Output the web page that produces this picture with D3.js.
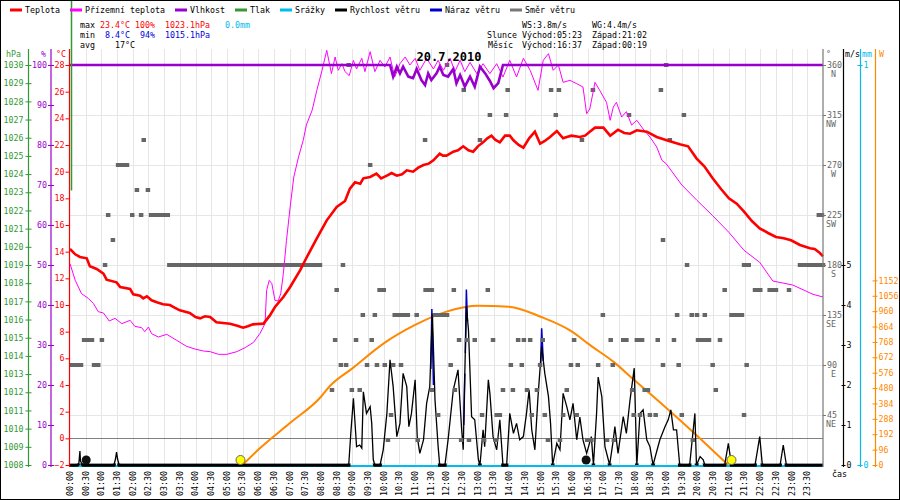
<!DOCTYPE html>
<html>
<head>
<meta charset="utf-8">
<script src="https://cdn.jsdelivr.net/npm/d3@7"></script>
<style>
  body { margin: 0; background: #fff; }
  svg text { font-family: "DejaVu Sans Mono", monospace; font-size: 8.3px; }
</style>
</head>
<body>
<svg id="chart" width="900" height="500"></svg>
<script>
// ---- data (minutes since midnight, value) ----
const tempData = [[0,14.2],[10,13.8],[19,13.6],[32,13.5],[38,12.9],[51,12.7],[64,12.35],[70,11.9],[89,11.7],[96,11.35],[115,11.2],[121,10.8],[134,10.7],[140,10.5],[147,10.65],[156,10.35],[166,10.2],[178,10.05],[191,10.0],[200,9.8],[210,9.6],[229,9.4],[240,9.1],[249,9.0],[258,9.15],[268,9.1],[280,8.7],[306,8.6],[320,8.45],[331,8.3],[340,8.4],[350,8.55],[370,8.6],[382,9.2],[392,9.85],[408,10.6],[421,11.35],[440,12.6],[453,13.6],[472,15.0],[491,16.35],[510,17.35],[526,17.8],[535,18.7],[545,19.2],[555,19.1],[561,19.5],[574,19.6],[586,19.85],[595,19.5],[606,19.7],[615,19.9],[625,19.7],[635,19.8],[644,20.1],[656,20.0],[666,20.3],[676,20.5],[686,20.6],[695,20.85],[707,21.35],[713,21.2],[720,21.2],[733,21.5],[742,21.6],[752,21.9],[762,21.6],[771,21.5],[780,21.9],[790,22.2],[798,22.5],[806,22.7],[813,22.4],[822,22.2],[832,22.7],[841,22.7],[848,22.35],[858,22.0],[867,21.8],[878,22.5],[889,23.0],[899,22.1],[908,22.3],[918,22.6],[931,23.05],[943,22.5],[950,22.6],[959,22.7],[975,22.6],[985,22.7],[994,23.0],[1004,23.3],[1020,23.3],[1033,22.7],[1048,23.15],[1060,22.9],[1071,22.85],[1084,23.1],[1103,23.0],[1122,22.6],[1141,22.35],[1166,22.05],[1182,21.9],[1198,21.0],[1213,20.4],[1229,19.5],[1245,18.7],[1260,18.0],[1275,17.6],[1289,17.0],[1304,16.3],[1319,15.75],[1335,15.4],[1350,15.1],[1365,15.0],[1379,14.85],[1396,14.5],[1415,14.25],[1424,14.2],[1434,13.9],[1440,13.65]];

const groundData = [[0,13.1],[10,11.85],[22,10.85],[35,10.5],[45,10.1],[54,9.5],[64,9.4],[75,8.8],[86,9.0],[99,8.6],[115,8.85],[124,8.4],[137,8.3],[143,8.0],[150,8.35],[156,7.85],[169,7.6],[185,7.8],[204,7.35],[223,6.9],[239,6.7],[255,6.55],[268,6.5],[284,6.3],[300,6.3],[319,6.5],[335,6.8],[351,7.2],[363,7.85],[373,8.6],[376,11.1],[381,11.85],[386,11.6],[392,10.35],[398,10.3],[403,10.85],[408,12.35],[414,14.85],[421,17.35],[428,19.6],[437,21.1],[446,22.35],[452,23.5],[463,24.6],[472,26.1],[482,27.6],[491,29.1],[500,27.35],[507,28.6],[513,27.6],[520,28.1],[526,27.5],[534,27.2],[542,28.35],[548,27.7],[558,28.5],[564,27.5],[574,29.0],[583,27.5],[593,28.35],[602,27.85],[612,28.6],[621,27.1],[631,28.1],[641,28.6],[650,28.0],[660,28.5],[669,27.6],[682,28.5],[695,27.7],[704,28.35],[714,27.6],[727,28.5],[736,27.5],[746,28.35],[755,27.5],[765,28.2],[778,27.35],[790,28.1],[803,27.35],[816,28.1],[828,27.1],[841,28.35],[854,27.1],[867,28.5],[880,27.6],[895,26.1],[905,28.35],[915,28.85],[924,27.6],[934,28.0],[943,26.7],[956,26.85],[969,26.6],[981,26.35],[988,24.35],[994,24.7],[1004,26.7],[1013,26.1],[1026,25.2],[1033,23.85],[1039,24.85],[1045,25.2],[1055,24.1],[1064,24.5],[1074,23.5],[1084,23.85],[1096,23.2],[1109,22.6],[1122,21.85],[1132,20.85],[1140,20.6],[1170,19.0],[1199,17.85],[1229,16.7],[1260,15.45],[1289,14.1],[1319,13.2],[1344,11.8],[1382,11.5],[1421,10.8],[1440,10.6]];

const humidityData = [[0,100],[612,100],[618,97.1],[625,99.6],[631,97.9],[637,99.6],[647,97.1],[656,96.7],[663,99],[672,96.25],[679,95],[685,97.9],[691,96.25],[701,97.9],[707,99.6],[714,97.5],[723,97.1],[733,99],[739,95.4],[746,97.5],[755,94.6],[765,97.1],[774,94.6],[784,99.6],[794,97.9],[803,96],[810,94.2],[819,95.5],[828,100],[1440,100]];

const solarData = [[330,0],[363,104],[420,260],[480,426],[497,493],[540,603],[600,759],[660,874],[720,957],[780,994],[840,988],[900,925],[960,832],[975,797],[990,759],[1039,645],[1079,530],[1134,374],[1194,198],[1254,15],[1259,0]];

const windData = [[0,0],[14,0],[17,0.05],[19,0.35],[20,0.1],[22,0.05],[25,0],[84,0],[87,0.15],[89,0.32],[91,0.15],[94,0],[533,0],[537,0.79],[542,1.67],[548,0.46],[554,0.5],[558,0.42],[561,1.83],[567,1.29],[574,1.46],[577,1.04],[580,0.13],[583,0],[593,0],[599,0.38],[606,1.29],[612,2.63],[618,1.96],[625,0.71],[631,1.04],[637,2.29],[644,1.96],[648,0.96],[653,1.29],[660,2.13],[664,0.71],[669,0.29],[676,0.63],[682,1.54],[688,1.96],[693,3.79],[698,1.63],[704,0.46],[707,0],[717,0],[723,0.63],[733,1.88],[742,2.38],[749,0.88],[752,0.38],[755,2.29],[758,3.96],[762,3.38],[768,1.21],[774,1.13],[781,0.13],[784,0],[790,0.88],[793,0.46],[800,2.13],[803,1.79],[809,0.71],[816,0.38],[822,1.13],[828,0],[835,0],[841,1.29],[848,0.79],[854,1.04],[860,0.63],[867,0.71],[873,1.29],[878,1.88],[883,0.88],[889,0.38],[895,1.71],[902,2.96],[908,2.29],[915,1.71],[919,1.04],[923,0],[931,0.54],[937,0.38],[943,1.79],[950,1.46],[956,1.13],[962,1.54],[969,0.63],[975,1.2],[981,0.63],[988,0.29],[997,0.71],[1001,0],[1007,1.29],[1010,2.2],[1017,1.71],[1023,0.46],[1032,0],[1039,0.63],[1042,0.96],[1048,0.29],[1058,1.21],[1064,0.79],[1071,1.63],[1079,2.42],[1084,0],[1090,1.29],[1096,1.38],[1103,0.63],[1109,0.46],[1115,0],[1128,0.63],[1138,0.96],[1144,1.13],[1149,1.38],[1154,0.88],[1160,0.88],[1166,0],[1185,0],[1195,1.29],[1198,0],[1205,0.21],[1211,0.13],[1214,0],[1252,0],[1259,0.54],[1265,0],[1310,0],[1319,0.71],[1324,0],[1358,0],[1364,0.5],[1370,0],[1440,0]];

// gust only where it rises above the wind trace
const gustSpikes = [
  [[690,2.4],[692,3.9],[695,2.0]],
  [[753,1.0],[754,1.6],[755,2.29]],
  [[756,2.8],[758,4.39],[760,3.6]],
  [[900,2.5],[902,3.42],[905,2.6]]
];

// wind direction runs: [from minute, to minute, degrees]
const windDirRuns = [
  [608,608,22.5],[665,665,22.5],[748,748,22.5],[763,763,22.5],[792,792,22.5],[814,814,22.5],[914,914,22.5],[937,937,22.5],[989,989,22.5],[997,997,22.5],[1027,1027,22.5],[1040,1040,22.5],[1191,1191,22.5],
  [614,614,45],[704,704,45],[788,788,45],[816,822,45],[883,883,45],[908,908,45],[943,943,45],[969,969,45],[1078,1078,45],[1090,1090,45],[1109,1109,45],[1120,1120,45],[1170,1170,45],[1289,1289,45],
  [501,501,67.5],[539,539,67.5],[554,554,67.5],[692,692,67.5],[736,736,67.5],[828,828,67.5],[847,847,67.5],[874,874,67.5],[893,893,67.5],[950,950,67.5],[1075,1075,67.5],[1099,1105,67.5],[1235,1235,67.5],
  [4,21,90],[46,54,90],[518,518,90],[528,528,90],[568,568,90],[587,587,90],[602,602,90],[618,618,90],[633,633,90],[728,728,90],[843,843,90],[864,864,90],[899,899,90],[958,958,90],[971,971,90],[1010,1010,90],[1038,1038,90],[1134,1134,90],[1164,1164,90],[1229,1229,90],[1294,1294,90],
  [27,42,112.5],[61,61,112.5],[507,507,112.5],[547,547,112.5],[577,577,112.5],[744,744,112.5],[759,759,112.5],[774,774,112.5],[809,809,112.5],[857,857,112.5],[868,868,112.5],[880,880,112.5],[904,904,112.5],[964,964,112.5],[1034,1034,112.5],[1058,1064,112.5],[1084,1094,112.5],[1124,1124,112.5],[1155,1155,112.5],[1201,1222,112.5],[1243,1243,112.5],
  [560,560,135],[583,583,135],[621,646,135],[663,663,135],[698,721,135],[1019,1019,135],[1161,1161,135],[1189,1189,135],[1199,1199,135],[1214,1214,135],[1265,1285,135],
  [510,510,157.5],[592,600,157.5],[680,692,157.5],[734,734,157.5],[799,799,157.5],[1252,1252,157.5],[1310,1320,157.5],[1338,1350,157.5],[1375,1375,157.5],
  [67,67,180],[190,478,180],[522,522,180],[1180,1180,180],[1289,1298,180],[1396,1440,180],
  [82,82,202.5],[1134,1134,202.5],
  [73,73,225],[119,119,225],[136,136,225],[155,187,225],[1432,1438,225],
  [128,128,247.5],[149,149,247.5],
  [92,109,270],[574,574,270],
  [141,141,292.5],[679,679,292.5],[784,784,292.5],[979,979,292.5],[1147,1147,292.5],
  [803,803,315],[834,834,315],[929,929,315],[1069,1069,315],[1174,1174,315],
  [753,753,337.5],[837,837,337.5],[920,920,337.5],[935,935,337.5],[1000,1000,337.5],[1130,1130,337.5],
  [533,533,360],[721,721,360],[1140,1140,360]
];

const pressureSpike = [1023.1, 1040];       // stray pressure trace at 00:00
const sunMarks = [326, 1265];               // where the sun symbols sit
const moonMarks = [31, 987];                // where the moon symbols sit

const legendItems = [["Teplota","#ff0000"],["Přízemní teplota","#ff00ff"],["Vlhkost","#9900cc"],["Tlak","#339933"],
  ["Srážky","#00bbee"],["Rychlost větru","#000000"],["Náraz větru","#0000cc"],["Směr větru","#777777"]];

const statsMax = ["23.4°C","100%","1023.1hPa","0.0mm"];
const statsMin = ["8.4°C","94%","1015.1hPa"];
const statsAvg = ["17°C"];
const windStats = ["WS:3.8m/s","WG:4.4m/s"];
const sunTimes = ["Východ:05:23","Západ:21:02"];
const moonTimes = ["Východ:16:37","Západ:00:19"];
const titleText = "20.7.2010";

const timeLabels = ["00:00","00:30","01:00","01:30","02:00","02:30","03:00","03:30","04:00","04:30","05:00","05:30",
  "06:00","06:30","07:00","07:30","08:00","08:30","09:00","09:30","10:00","10:30","11:00","11:30",
  "12:00","12:30","13:00","13:30","14:00","14:30","15:00","15:30","16:00","16:30","17:00","17:30",
  "18:00","18:30","19:00","19:30","20:00","20:30","21:00","21:30","22:00","22:30","23:00","23:30"];
const pressTicks = [1008,1009,1010,1011,1012,1013,1014,1015,1016,1017,1018,1019,1020,1021,1022,1023,1024,1025,1026,1027,1028,1029,1030];
const humTicks = [0,10,20,30,40,50,60,70,80,90,100];
const tempTicks = [-2,0,2,4,6,8,10,12,14,16,18,20,22,24,26,28];
const dirTicks = [45,90,135,180,225,270,315,360];
const dirNames = ["NE","E","SE","S","SW","W","NW","N"];
const speedTicks = [0,1,2,3,4,5];
const rainTicks = [0,1];
const solarTicks = [0,96,192,288,384,480,576,672,768,864,960,1056,1152];

// ---- layout ----
const plotL = 70, plotR = 823, plotT = 65, plotB = 465, axTop = 49, axBot = 467;

const svg = d3.select("#chart");
svg.append("rect").attr("width", 900).attr("height", 500).attr("fill", "#fff");

const x = d3.scaleLinear().domain([0, 1440]).range([plotL, plotR]);
const yT = d3.scaleLinear().domain([-2, 28]).range([plotB, plotT]);
const yH = d3.scaleLinear().domain([0, 100]).range([plotB, plotT]);
const yP = d3.scaleLinear().domain([1008, 1030]).range([plotB, plotT]);
const yD = d3.scaleLinear().domain([0, 360]).range([plotB, plotT]);
const yS = d3.scaleLinear().domain([0, 5]).range([plotB, 265]);
const yR = d3.scaleLinear().domain([0, 1]).range([plotB, plotT]);
const yW = d3.scaleLinear().domain([0, 1248]).range([plotB, 265]);

/*
 * grid
 */
const grid = svg.append("g").attr("stroke", "#e6e6e6").attr("stroke-width", 1);
grid.selectAll("line.v")
  .data(timeLabels.slice(1))
  .enter().append("line")
  .attr("x1", (d, i) => Math.round(x((i + 1) * 30)) + 0.5)
  .attr("x2", (d, i) => Math.round(x((i + 1) * 30)) + 0.5)
  .attr("y1", axTop).attr("y2", plotB);
grid.selectAll("line.h")
  .data(dirTicks.slice(0, 7))
  .enter().append("line")
  .attr("x1", plotL).attr("x2", plotR)
  .attr("y1", d => Math.round(yD(d)) + 0.5)
  .attr("y2", d => Math.round(yD(d)) + 0.5);

svg.append("line")
  .attr("x1", plotL).attr("x2", plotR)
  .attr("y1", Math.round(yT(0)) + 0.5).attr("y2", Math.round(yT(0)) + 0.5)
  .attr("stroke", "#808080");

/*
 * solar radiation
 */
svg.append("path")
  .datum(solarData)
  .attr("d", d3.line().curve(d3.curveMonotoneX).x(d => x(d[0])).y(d => yW(d[1])))
  .attr("fill", "none").attr("stroke", "#ff8800").attr("stroke-width", 2);

/*
 * rain baseline, gusts, wind speed
 */
svg.append("line")
  .attr("x1", plotL).attr("x2", plotR).attr("y1", 466).attr("y2", 466)
  .attr("stroke", "#00bbee").attr("stroke-width", 2);

const lineS = d3.line().x(d => x(d[0])).y(d => yS(d[1]));

svg.append("g").selectAll("path")
  .data(gustSpikes)
  .enter().append("path")
  .attr("d", lineS)
  .attr("fill", "none").attr("stroke", "#0000cc").attr("stroke-width", 1.5);

svg.append("path")
  .datum(windData)
  .attr("d", lineS)
  .attr("fill", "none").attr("stroke", "#000").attr("stroke-width", 1.3);

svg.append("clipPath").attr("id", "band")
  .append("rect").attr("x", plotL).attr("y", 463.5).attr("width", plotR - plotL).attr("height", 4.5);
svg.append("path")
  .datum(windData)
  .attr("d", lineS)
  .attr("clip-path", "url(#band)")
  .attr("fill", "none").attr("stroke", "#000").attr("stroke-width", 3.5);

/*
 * wind direction
 */
svg.append("g").selectAll("rect")
  .data(windDirRuns)
  .enter().append("rect")
  .attr("x", d => x(d[0]) - 2.25)
  .attr("y", d => yD(d[2]) - 2)
  .attr("width", d => x(d[1]) - x(d[0]) + 4.5)
  .attr("height", 4)
  .attr("fill", "#666");

/*
 * temperatures, humidity
 */
const lineT = d3.line().x(d => x(d[0])).y(d => yT(d[1]));

svg.append("path")
  .datum(groundData)
  .attr("d", lineT)
  .attr("fill", "none").attr("stroke", "#ff00ff").attr("stroke-width", 1);

svg.append("path")
  .datum(tempData)
  .attr("d", lineT)
  .attr("fill", "none").attr("stroke", "#ff0000").attr("stroke-width", 2.6);

svg.append("path")
  .datum(humidityData)
  .attr("d", d3.line().x(d => x(d[0])).y(d => yH(d[1])))
  .attr("fill", "none").attr("stroke", "#9900cc").attr("stroke-width", 2.6);

/*
 * axes
 */
function vAxis(xPos, scale, ticks, color, side, tickIn, tickOut, pad) {
  const ax = (side === "left" ? d3.axisLeft(scale) : d3.axisRight(scale))
    .tickValues(ticks).tickFormat(d3.format("d"))
    .tickSize(tickOut).tickPadding(pad).tickSizeOuter(0);
  const g = svg.append("g").attr("transform", `translate(${xPos},0)`).call(ax);
  g.attr("font-size", null).attr("font-family", null);
  g.select(".domain").remove();
  g.selectAll(".tick line").attr("stroke", color).attr("x1", side === "left" ? tickIn : -tickIn);
  g.selectAll(".tick text").attr("fill", color);
  svg.append("line")
    .attr("x1", xPos).attr("x2", xPos).attr("y1", axTop).attr("y2", axBot)
    .attr("stroke", color).attr("stroke-width", 1.2);
  return g;
}

vAxis(28.5, yP, pressTicks, "#339933", "left", 3, 3, 2);
vAxis(51, yH, humTicks, "#9900cc", "left", 3, 3, 1);
vAxis(69.5, yT, tempTicks, "#ff0000", "left", 0, 4, 1);
const dirAxis = vAxis(823, yD, dirTicks, "#777777", "right", 0, 3, 1);
dirAxis.selectAll(".tick text").attr("fill", "#666");
dirAxis.selectAll(".tick").append("text")
  .attr("x", 13).attr("y", 11)
  .attr("text-anchor", "end")
  .attr("fill", "#666")
  .text((d, i) => dirNames[i]);
vAxis(843.5, yS, speedTicks, "#000000", "right", 2, 2, 1);
vAxis(860.5, yR, rainTicks, "#00bbee", "right", 3, 2, 1);
vAxis(875.5, yW, solarTicks, "#ff8800", "right", 3, 2, 1);

// stray pressure trace
svg.append("line")
  .attr("x1", 71.5).attr("x2", 71.5)
  .attr("y1", yP(pressureSpike[0])).attr("y2", yP(pressureSpike[1]))
  .attr("stroke", "#339933").attr("stroke-width", 1.5);

// unit labels
[["hPa", 6, "#339933"], ["%", 41, "#9900cc"], ["°C", 56, "#ff0000"],
 ["°", 826, "#666"], ["m/s", 845, "#000"], ["mm", 862, "#00bbee"], ["W", 879, "#ff8800"]]
  .forEach(u => svg.append("text").attr("x", u[1]).attr("y", 57).attr("fill", u[2]).text(u[0]));

// time axis
svg.append("g").selectAll("text")
  .data(timeLabels)
  .enter().append("text")
  .attr("transform", (d, i) => `translate(${x(i * 30)},496) rotate(-90)`)
  .attr("dy", "0.35em")
  .attr("fill", "#000")
  .text(d => d);
svg.append("text").attr("x", 832).attr("y", 477).attr("fill", "#000").text("čas");

/*
 * sun / moon symbols
 */
svg.append("g").selectAll("circle")
  .data(moonMarks)
  .enter().append("circle")
  .attr("cx", d => x(d)).attr("cy", 460).attr("r", 4.5)
  .attr("fill", "#111");
svg.append("g").selectAll("circle")
  .data(sunMarks)
  .enter().append("circle")
  .attr("cx", d => x(d)).attr("cy", 460).attr("r", 4.5)
  .attr("fill", "#ffff00").attr("stroke", "#666").attr("stroke-width", 1);

/*
 * legend
 */
let lx = 10;
legendItems.forEach(item => {
  svg.append("line")
    .attr("x1", lx).attr("x2", lx + 12).attr("y1", 10).attr("y2", 10)
    .attr("stroke", item[1]).attr("stroke-width", 3);
  svg.append("text").attr("x", lx + 15).attr("y", 12.5).attr("fill", "#000").text(item[0]);
  lx += 15 + item[0].length * 5 + 10;
});

/*
 * stats block
 */
const cw = 5;
function put(col, row, str, color, base) {
  svg.append("text")
    .attr("x", base + col * cw).attr("y", 27.5 + row * 10)
    .attr("fill", color).text(str);
}
put(0, 0, "max", "#000", 80);
put(4, 0, statsMax[0], "#ff0000", 80);
put(11, 0, statsMax[1], "#ff0000", 80);
put(17, 0, statsMax[2], "#ff0000", 80);
put(29, 0, statsMax[3], "#00bbee", 80);
put(0, 1, "min", "#000", 80);
put(5, 1, statsMin[0], "#0000dd", 80);
put(12, 1, statsMin[1], "#0000dd", 80);
put(17, 1, statsMin[2], "#0000dd", 80);
put(0, 2, "avg", "#000", 80);
put(7, 2, statsAvg[0], "#000", 80);

put(7, 0, windStats[0], "#000", 487);
put(21, 0, windStats[1], "#000", 487);
put(0, 1, "Slunce", "#000", 487);
put(7, 1, sunTimes[0], "#000", 487);
put(21, 1, sunTimes[1], "#000", 487);
put(0, 2, "Měsíc", "#000", 488);
put(7, 2, moonTimes[0], "#000", 487);
put(21, 2, moonTimes[1], "#000", 487);

svg.append("text")
  .attr("x", 449).attr("y", 61)
  .attr("text-anchor", "middle")
  .style("font-size", "12px").style("font-weight", "bold")
  .attr("fill", "#000")
  .text(titleText);

// frame
svg.append("rect")
  .attr("x", 0.5).attr("y", 0.5).attr("width", 899).attr("height", 499)
  .attr("fill", "none").attr("stroke", "#000");
</script>
</body>
</html>
